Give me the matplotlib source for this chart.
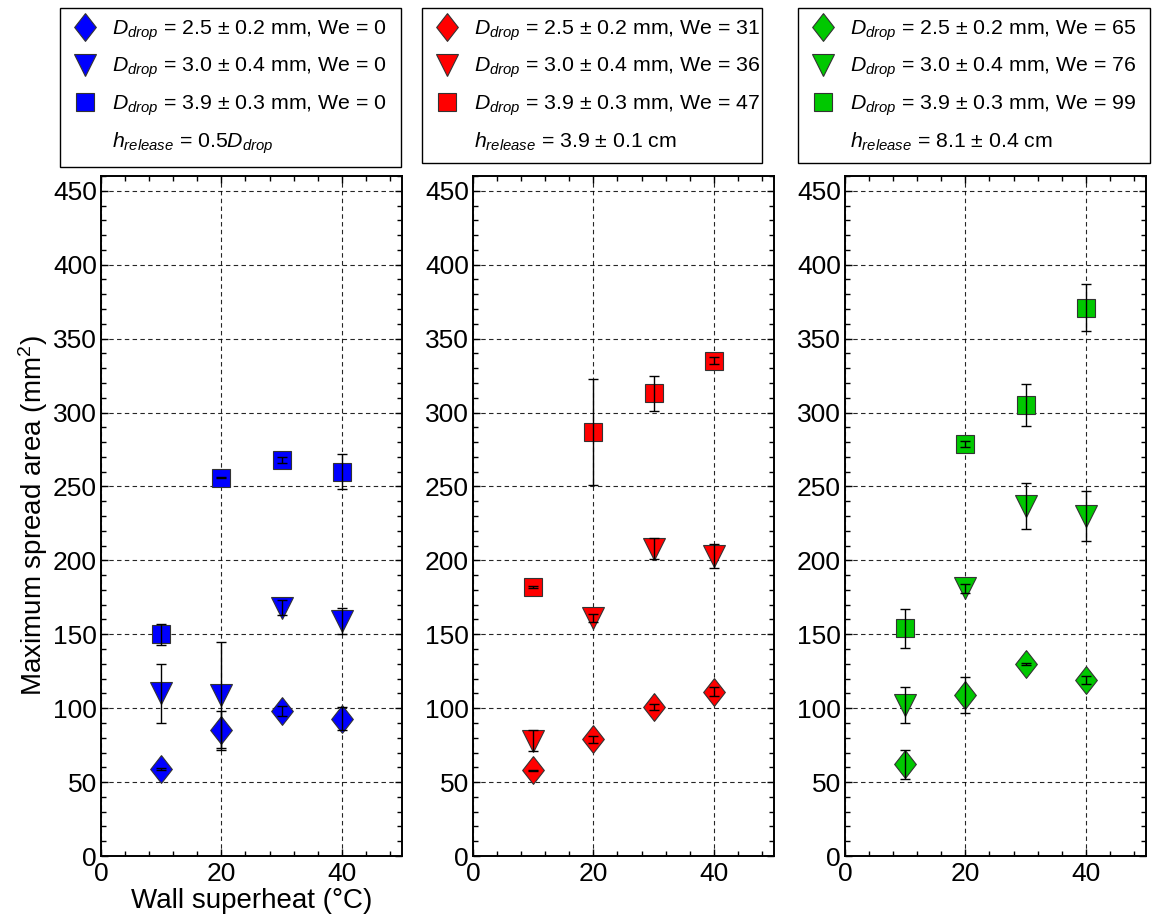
import numpy as np
import matplotlib
matplotlib.use('Agg')
import matplotlib.pyplot as plt
from matplotlib.lines import Line2D
from matplotlib.ticker import MultipleLocator

plt.rcParams['font.family'] = ['Liberation Sans', 'DejaVu Sans']
plt.rcParams['mathtext.fontset'] = 'custom'
plt.rcParams['mathtext.rm'] = 'Liberation Sans'
plt.rcParams['mathtext.it'] = 'Liberation Sans:italic'

# wall superheat (C)
superheat = [10, 20, 30, 40]

# max spread area (mm^2), one list per drop size, one panel per release height
blue_small = [59, 85, 98, 93]
blue_small_err = [0.5, 13, 3.5, 8]
blue_mid = [110, 109, 168, 159]
blue_mid_err = [20, 36, 5, 9]
blue_big = [150, 256, 268, 260]
blue_big_err = [7, 0.5, 2, 12]

red_small = [58, 79, 101, 111]
red_small_err = [0.5, 2.5, 2, 3]
red_mid = [78, 161, 208, 203]
red_mid_err = [7, 3, 7, 8]
red_big = [182, 287, 313, 335]
red_big_err = [0.5, 36, 12, 2.5]

green_small = [62, 109, 130, 119]
green_small_err = [10, 12, 0.5, 2.5]
green_mid = [102, 181, 237, 230]
green_mid_err = [12, 3, 15.5, 17]
green_big = [154, 279, 305, 371]
green_big_err = [13, 2, 14, 16]

labels_blue = ['2.5 \u00b1 0.2 mm, We = 0', '3.0 \u00b1 0.4 mm, We = 0', '3.9 \u00b1 0.3 mm, We = 0']
labels_red = ['2.5 \u00b1 0.2 mm, We = 31', '3.0 \u00b1 0.4 mm, We = 36', '3.9 \u00b1 0.3 mm, We = 47']
labels_green = ['2.5 \u00b1 0.2 mm, We = 65', '3.0 \u00b1 0.4 mm, We = 76', '3.9 \u00b1 0.3 mm, We = 99']
release_text = [r'= 0.5$D_{drop}$', '= 3.9 \u00b1 0.1 cm', '= 8.1 \u00b1 0.4 cm']

diamond = [(0, 1), (0.78, 0), (0, -1), (-0.78, 0), (0, 1)]

panels = [
    ('#0000ff', [(blue_small, blue_small_err), (blue_mid, blue_mid_err), (blue_big, blue_big_err)], labels_blue),
    ('#ff0000', [(red_small, red_small_err), (red_mid, red_mid_err), (red_big, red_big_err)], labels_red),
    ('#00c800', [(green_small, green_small_err), (green_mid, green_mid_err), (green_big, green_big_err)], labels_green),
]

W, H = 1158, 919
fig = plt.figure(figsize=(W / 100, H / 100), dpi=100)

ax_left = [101, 473, 845]
box_x = [(60, 401), (422, 762), (798, 1150)]
markers = [(diamond, 20), ('v', 16), ('s', 12.5)]

for i, (color, series, labels) in enumerate(panels):
    ax = fig.add_axes([ax_left[i] / W, 63 / H, 301 / W, 680 / H])
    handles = []
    for (vals, errs), (mk, ms), lab in zip(series, markers, labels):
        h, = ax.plot(superheat, vals, linestyle='none', marker=mk, markersize=ms,
                     markerfacecolor=color, markeredgecolor='#333333', markeredgewidth=0.8,
                     zorder=3, label=r'$D_{drop}$ = ' + lab)
        ax.errorbar(superheat, vals, yerr=errs, fmt='none', ecolor='k', elinewidth=1,
                    capsize=3.6, capthick=1, zorder=4)
        handles.append(h)
    handles.append(Line2D([], [], linestyle='none', marker=None,
                          label=r'$h_{release}$ ' + release_text[i]))

    ax.set_xlim(0, 50)
    ax.set_ylim(0, 460)
    ax.xaxis.set_major_locator(MultipleLocator(20))
    ax.xaxis.set_minor_locator(MultipleLocator(4))
    ax.yaxis.set_major_locator(MultipleLocator(50))
    ax.yaxis.set_minor_locator(MultipleLocator(10))
    ax.tick_params(which='both', direction='in', top=True, right=True, labelsize=19)
    ax.tick_params(axis='y', pad=3)
    ax.tick_params(axis='x', pad=4)
    ax.tick_params(which='major', length=5, width=1)
    ax.tick_params(which='minor', length=3.5, width=1)
    ax.grid(True, which='major', color='k', linestyle=(0, (4, 3)), linewidth=0.8, alpha=0.85)
    for s in ax.spines.values():
        s.set_linewidth(1.4)

    x0, x1 = box_x[i]
    ax.legend(handles=handles, loc='upper left', mode='expand',
              bbox_to_anchor=(x0 / W, 1 - 8 / H, (x1 - x0) / W, 0.0),
              bbox_transform=fig.transFigure, fontsize=15.3, frameon=True,
              fancybox=False, edgecolor='k', framealpha=1, borderaxespad=0,
              borderpad=0.5, handlelength=1.35, handletextpad=0.6, labelspacing=0.6)
    if i == 0:
        ax.set_xlabel('Wall superheat (\u00b0C)', fontsize=20, labelpad=2)
        ax.set_ylabel('Maximum spread area (mm$^2$)', fontsize=20, labelpad=2)

fig.savefig('out.png', dpi=100)
